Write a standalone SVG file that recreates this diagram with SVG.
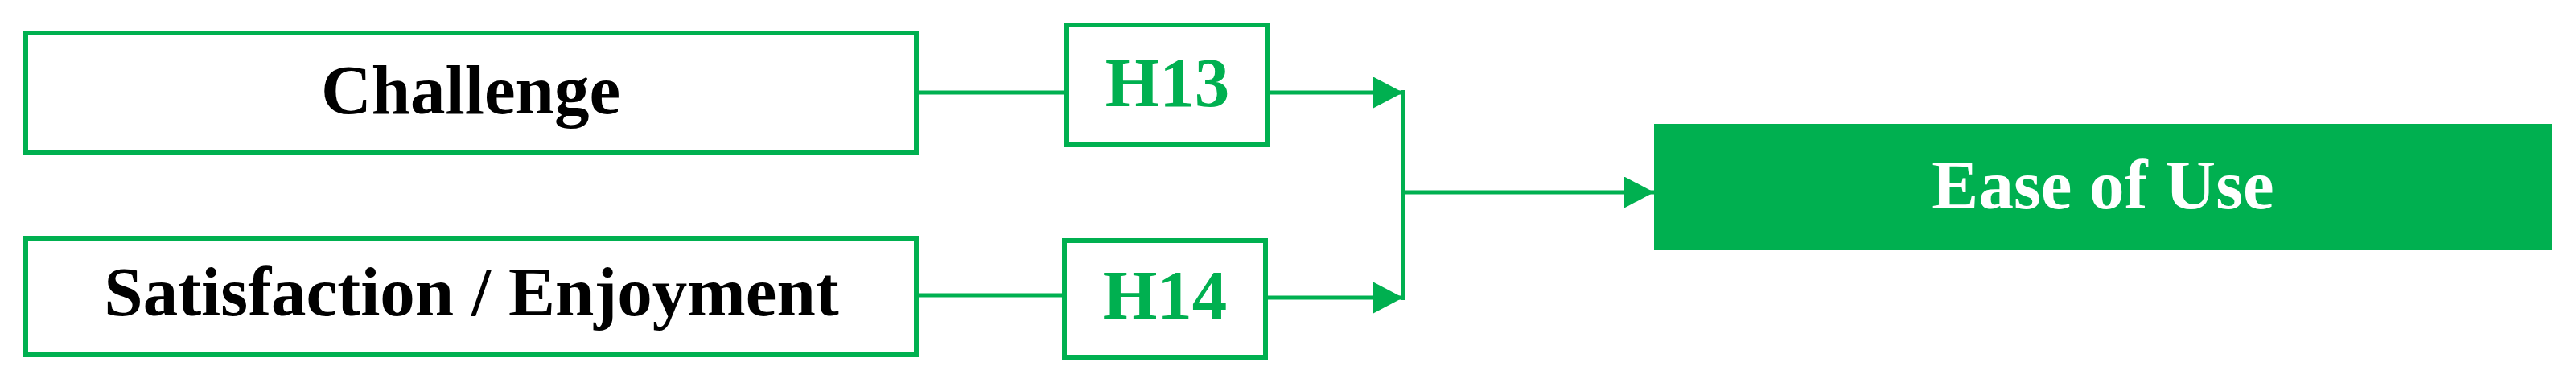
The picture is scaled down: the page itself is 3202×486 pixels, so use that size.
<svg xmlns="http://www.w3.org/2000/svg" width="3202" height="486" viewBox="0 0 3202 486">
<style>
.box{fill:#fff;stroke:#00B050;stroke-width:6}
.lbl{font-family:"Liberation Serif","Times New Roman",serif;font-weight:bold;font-size:87px;text-anchor:middle}
.blk{fill:#000}
.grn{fill:#00B050}
.wht{fill:#fff}
.ln{stroke:#00B050;stroke-width:5;fill:none}
</style>
<defs>
<marker id="arr" markerUnits="userSpaceOnUse" markerWidth="38" markerHeight="40" refX="37" refY="19.5" orient="auto" viewBox="0 0 38 40">
<path d="M0,0 L37,19.5 L0,39 Z" fill="#00B050"/>
</marker>
</defs>
<g id="connectors">
<line class="ln" x1="1142" y1="115" x2="1323" y2="115"/>
<line class="ln" x1="1142" y1="367" x2="1320" y2="367"/>
<line class="ln" x1="1579" y1="115" x2="1744" y2="115" marker-end="url(#arr)"/>
<line class="ln" x1="1576" y1="370" x2="1744" y2="370" marker-end="url(#arr)"/>
<line class="ln" x1="1744" y1="112" x2="1744" y2="373"/>
<line class="ln" x1="1744" y1="239" x2="2056" y2="239" marker-end="url(#arr)"/>
</g>
<g id="challenge">
<rect class="box" x="32" y="41" width="1107" height="149"/>
<text class="lbl blk" x="585" y="141">Challenge</text>
</g>
<g id="satisfaction">
<rect class="box" x="32" y="296" width="1107" height="145"/>
<text class="lbl blk" x="586" y="392">Satisfaction / Enjoyment</text>
</g>
<g id="h13">
<rect class="box" x="1326" y="31" width="250" height="149"/>
<text class="lbl grn" x="1451" y="132">H13</text>
</g>
<g id="h14">
<rect class="box" x="1323" y="299" width="250" height="145"/>
<text class="lbl grn" x="1448" y="396">H14</text>
</g>
<g id="ease">
<rect x="2056" y="154" width="1116" height="157" fill="#00B050"/>
<text class="lbl wht" x="2614" y="259">Ease of Use</text>
</g>
</svg>
